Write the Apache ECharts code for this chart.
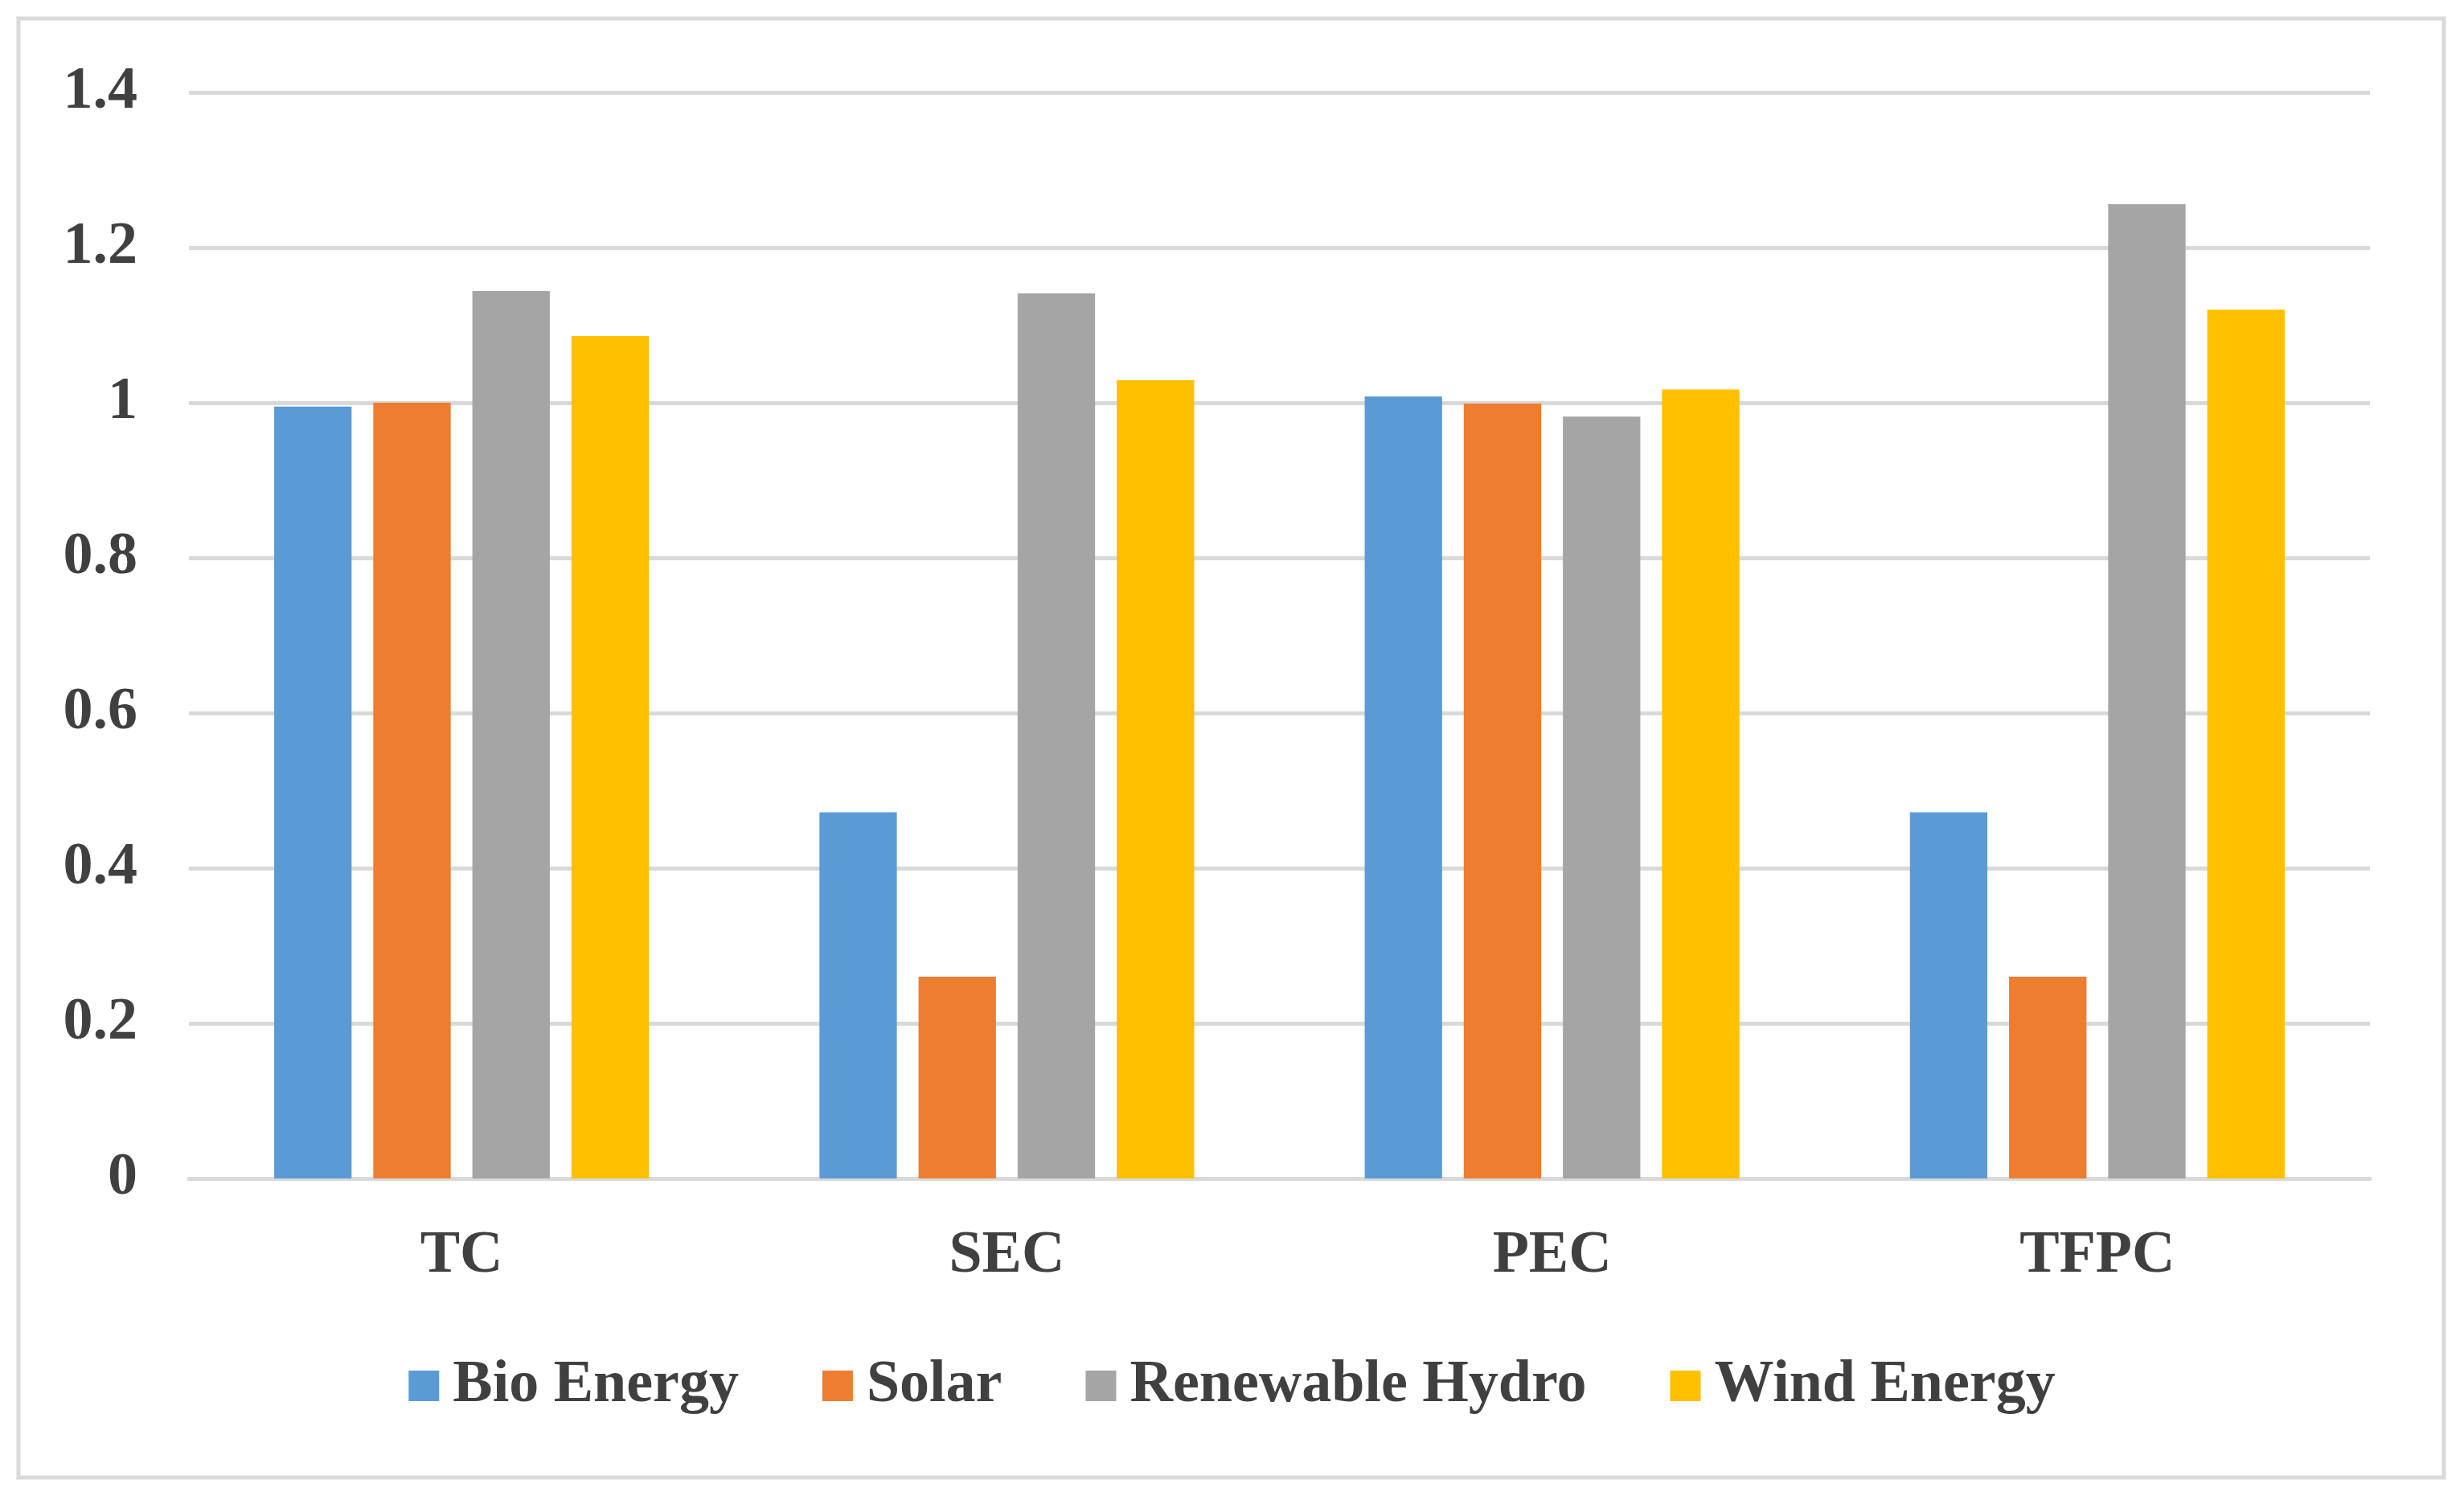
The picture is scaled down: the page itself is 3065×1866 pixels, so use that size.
<!DOCTYPE html>
<html>
<head>
<meta charset="utf-8">
<title>Energy chart</title>
<script src="https://cdn.jsdelivr.net/npm/echarts@6/dist/echarts.min.js"></script>
<style>
  html, body { margin: 0; padding: 0; background: #fff; }
  #main { width: 3065px; height: 1866px; }
</style>
</head>
<body>
<div id="main"></div>
<script>
// categories and series values
var categories = ['TC', 'SEC', 'PEC', 'TFPC'];
var seriesNames = ['Bio Energy', 'Solar', 'Renewable Hydro', 'Wind Energy'];
var bioEnergy = [0.995, 0.472, 1.008, 0.472];
var solar = [1.0, 0.26, 0.999, 0.26];
var renewableHydro = [1.144, 1.141, 0.982, 1.256];
var windEnergy = [1.086, 1.029, 1.017, 1.12];
var colors = ['#5B9BD5', '#ED7D31', '#A5A5A5', '#FFC000'];

var font = '"Liberation Serif", "Times New Roman", serif';
var textColor = '#404040';

var chart = echarts.init(document.getElementById('main'));

var makeBar = function(name, values) {
  return {
    name: name,
    type: 'bar',
    barWidth: '14.2%',
    barGap: '28%',
    data: values
  };
};

var option = {
  backgroundColor: '#fff',
  color: colors,
  animation: false,
  grid: {
    left: 235,
    right: 117,
    top: 115,
    bottom: 400
  },
  graphic: [{
    type: 'rect',
    shape: { x: 23, y: 23, width: 3017, height: 1815 },
    style: { fill: 'none', stroke: '#d9d9d9', lineWidth: 5 },
    silent: true
  }],
  legend: {
    data: seriesNames,
    bottom: 100,
    left: 'center',
    icon: 'rect',
    itemWidth: 38,
    itemHeight: 38,
    itemGap: 104,
    textStyle: {
      fontFamily: font,
      fontWeight: 'bold',
      fontSize: 74,
      color: textColor,
      padding: [0, 0, 0, 12]
    }
  },
  xAxis: {
    type: 'category',
    data: categories,
    axisLine: { lineStyle: { color: '#d9d9d9', width: 5 } },
    axisTick: { show: false },
    axisLabel: {
      margin: 60,
      fontFamily: font,
      fontWeight: 'bold',
      fontSize: 74,
      color: textColor
    }
  },
  yAxis: {
    type: 'value',
    min: 0,
    max: 1.4,
    interval: 0.2,
    axisLine: { show: false },
    axisTick: { show: false },
    splitLine: { lineStyle: { color: '#d9d9d9', width: 5 } },
    axisLabel: {
      margin: 64,
      fontFamily: font,
      fontWeight: 'bold',
      fontSize: 74,
      color: textColor
    }
  },
  series: [
    makeBar(seriesNames[0], bioEnergy),
    makeBar(seriesNames[1], solar),
    makeBar(seriesNames[2], renewableHydro),
    makeBar(seriesNames[3], windEnergy)
  ]
};

chart.setOption(option);
</script>
</body>
</html>
